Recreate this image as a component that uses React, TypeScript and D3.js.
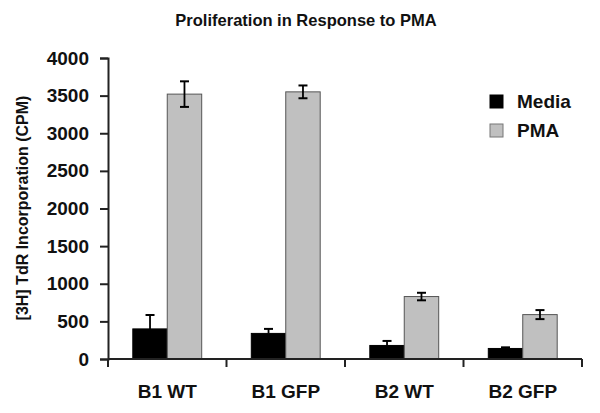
import React, { useRef, useEffect } from 'react';
import * as d3 from 'd3';

const groups = ['B1 WT', 'B1 GFP', 'B2 WT', 'B2 GFP'];
const seriesNames = ['Media', 'PMA'];
const mediaValues = [400, 340, 180, 140];
const mediaErrors = [185, 60, 60, 15];
const pmaValues = [3520, 3550, 830, 590];
const pmaErrors = [170, 85, 50, 60];
const yTicks = [0, 500, 1000, 1500, 2000, 2500, 3000, 3500, 4000];

const colors: Record<string, string> = { Media: '#000000', PMA: '#c0c0c0' };

const App: React.FC = () => {
  const svgRef = useRef<SVGSVGElement>(null);
  const width = 600;
  const height = 413;

  useEffect(() => {
    if (!svgRef.current) return;
    const svg = d3.select(svgRef.current);
    svg.selectAll('*').remove();

    const font = '"Liberation Sans", Arial, sans-serif';
    const left = 108;
    const right = 582;
    const top = 58;
    const bottom = 359;

    const x0 = d3.scaleBand<string>().domain(groups).range([left, right]).paddingInner(0).paddingOuter(0);
    const x1 = d3.scaleBand<string>().domain(seriesNames).range([0, x0.bandwidth()]).paddingInner(0).paddingOuter(0.72);
    const y = d3.scaleLinear().domain([0, 4000]).range([bottom, top]);

    const rows = groups.map((g, i) => ({
      group: g,
      items: [
        { key: 'Media', value: mediaValues[i], err: mediaErrors[i] },
        { key: 'PMA', value: pmaValues[i], err: pmaErrors[i] },
      ],
    }));

    // Bars
    const gBars = svg.append('g');
    rows.forEach(r => {
      r.items.forEach(d => {
        const bx = x0(r.group)! + x1(d.key)!;
        gBars.append('rect')
          .attr('x', bx)
          .attr('y', y(d.value))
          .attr('width', x1.bandwidth())
          .attr('height', y(0) - y(d.value))
          .attr('fill', colors[d.key])
          .attr('stroke', d.key === 'PMA' ? '#555' : '#000')
          .attr('stroke-width', 1);
      });
    });

    // Error bars (the lower half disappears into the black Media bars)
    rows.forEach(r => {
      r.items.forEach(d => {
        const cx = x0(r.group)! + x1(d.key)! + x1.bandwidth() / 2;
        const hi = y(d.value + d.err);
        const lo = d.key === 'Media' ? y(d.value) : y(Math.max(0, d.value - d.err));
        const cap = 4.5;
        gBars.append('line')
          .attr('x1', cx).attr('x2', cx).attr('y1', hi).attr('y2', lo)
          .attr('stroke', '#000').attr('stroke-width', 1.8);
        const caps = d.key === 'Media' ? [hi] : [hi, lo];
        caps.forEach(yy => {
          gBars.append('line')
            .attr('x1', cx - cap).attr('x2', cx + cap).attr('y1', yy).attr('y2', yy)
            .attr('stroke', '#000').attr('stroke-width', 2);
        });
      });
    });

    // Y axis
    const yAxis = svg.append('g')
      .attr('transform', `translate(${left},0)`)
      .call(d3.axisLeft(y).tickValues(yTicks).tickSize(8).tickPadding(11).tickFormat(d => `${d}`));
    yAxis.select('.domain').attr('stroke', '#222').attr('stroke-width', 2);
    yAxis.selectAll('.tick line').attr('stroke', '#222').attr('stroke-width', 2);
    yAxis.selectAll('text')
      .attr('font-family', font)
      .attr('font-size', '19px')
      .attr('font-weight', 700)
      .attr('fill', '#111');

    // X axis
    const xAxisG = svg.append('g');
    xAxisG.append('line')
      .attr('x1', left).attr('x2', right).attr('y1', bottom).attr('y2', bottom)
      .attr('stroke', '#222').attr('stroke-width', 2);
    const boundaries = [...groups.map(g => x0(g)!), right];
    boundaries.forEach(bx => {
      xAxisG.append('line')
        .attr('x1', bx).attr('x2', bx).attr('y1', bottom).attr('y2', bottom + 8)
        .attr('stroke', '#222').attr('stroke-width', 2);
    });
    groups.forEach(g => {
      xAxisG.append('text')
        .attr('x', x0(g)! + x0.bandwidth() / 2)
        .attr('y', 398)
        .attr('text-anchor', 'middle')
        .attr('font-family', font)
        .attr('font-size', '19px')
        .attr('font-weight', 700)
        .attr('fill', '#111')
        .text(g);
    });

    // Y axis title
    svg.append('text')
      .attr('transform', 'rotate(-90)')
      .attr('x', -208)
      .attr('y', 28)
      .attr('text-anchor', 'middle')
      .attr('font-family', font)
      .attr('font-size', '16px')
      .attr('font-weight', 700)
      .attr('fill', '#111')
      .text('[3H] TdR Incorporation (CPM)');

    // Title
    svg.append('text')
      .attr('x', 306)
      .attr('y', 26)
      .attr('text-anchor', 'middle')
      .attr('font-family', font)
      .attr('font-size', '16.5px')
      .attr('font-weight', 700)
      .attr('fill', '#111')
      .text('Proliferation in Response to PMA');

    // Legend
    const legend = svg.append('g').attr('transform', 'translate(490, 95)');
    seriesNames.forEach((s, i) => {
      legend.append('rect')
        .attr('x', 0)
        .attr('y', i * 29)
        .attr('width', 13)
        .attr('height', 13)
        .attr('fill', colors[s])
        .attr('stroke', s === 'PMA' ? '#777' : '#000')
        .attr('stroke-width', 1);
      legend.append('text')
        .attr('x', 27)
        .attr('y', i * 29 + 13)
        .attr('font-family', font)
        .attr('font-size', '19px')
        .attr('font-weight', 700)
        .attr('fill', '#111')
        .text(s);
    });
  }, []);

  return (
    <svg
      ref={svgRef}
      width={width}
      height={height}
      style={{ position: 'absolute', left: 0, top: 0, background: '#fff' }}
    />
  );
};

export default App;
